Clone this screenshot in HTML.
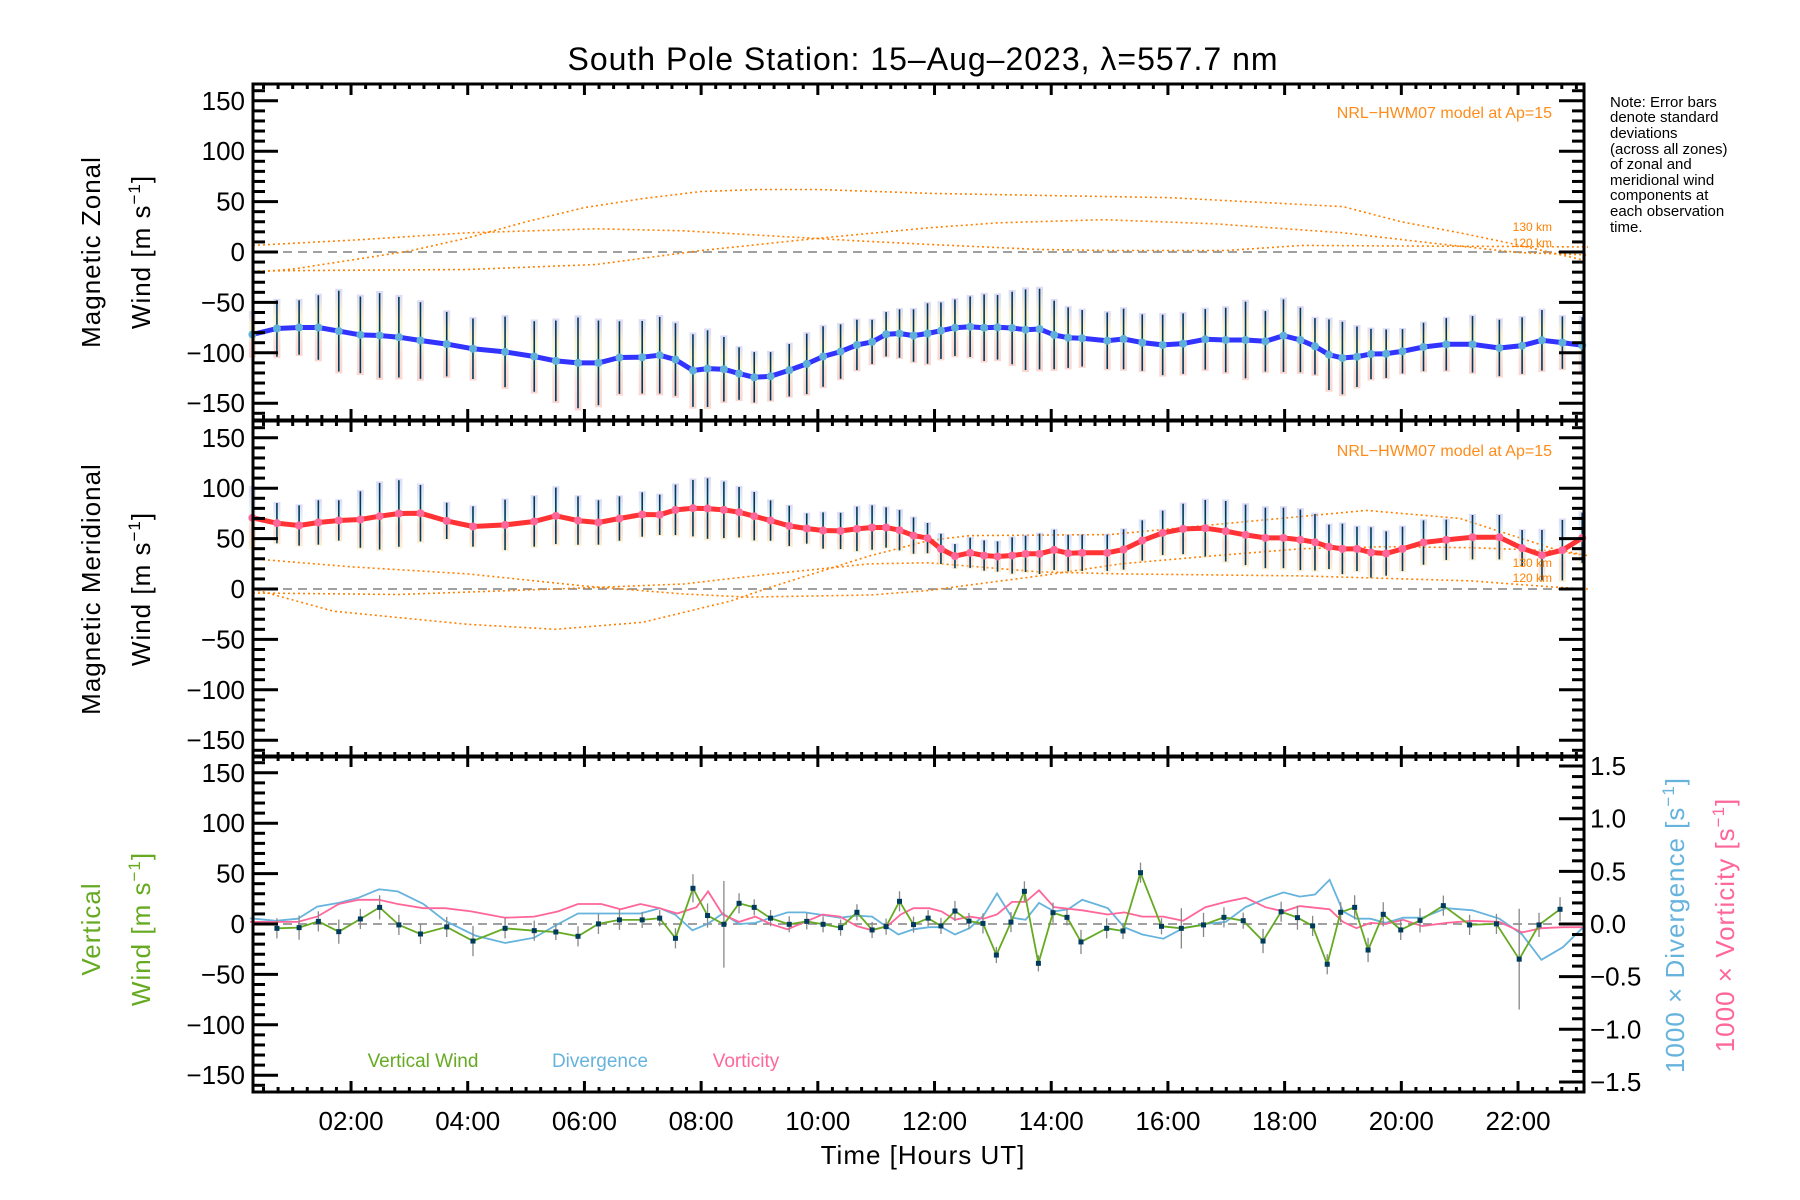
<!DOCTYPE html>
<html><head><meta charset="utf-8"><style>
html,body{margin:0;padding:0;background:#fff;}
svg{display:block;font-family:"Liberation Sans","DejaVu Sans",sans-serif;}
</style></head><body>
<svg id="chart" width="1800" height="1200" viewBox="0 0 1800 1200" xmlns="http://www.w3.org/2000/svg">
<rect width="1800" height="1200" fill="#fff"/>
<text x="923" y="70" font-size="32" text-anchor="middle" fill="#000" letter-spacing="1">South Pole Station: 15–Aug–2023, λ=557.7 nm</text>
<g id="layer"></g>
<g font-size="15" fill="#000">
<text x="1610" y="107">Note: Error bars</text><text x="1610" y="122">denote standard</text><text x="1610" y="138">deviations</text><text x="1610" y="154">(across all zones)</text><text x="1610" y="169">of zonal and</text><text x="1610" y="185">meridional wind</text><text x="1610" y="200">components at</text><text x="1610" y="216">each observation</text><text x="1610" y="232">time.</text>
</g>
<text transform="translate(100,252) rotate(-90)" font-size="26" text-anchor="middle" letter-spacing="1">Magnetic Zonal</text>
<text transform="translate(150,252) rotate(-90)" font-size="26" text-anchor="middle" letter-spacing="1">Wind [m s<tspan dy="-10" font-size="17">−1</tspan><tspan dy="10">]</tspan></text>
<text transform="translate(100,589) rotate(-90)" font-size="26" text-anchor="middle" letter-spacing="1">Magnetic Meridional</text>
<text transform="translate(150,589) rotate(-90)" font-size="26" text-anchor="middle" letter-spacing="1">Wind [m s<tspan dy="-10" font-size="17">−1</tspan><tspan dy="10">]</tspan></text>
<text transform="translate(100,929) rotate(-90)" font-size="26" text-anchor="middle" fill="#66aa22" letter-spacing="1">Vertical</text>
<text transform="translate(150,929) rotate(-90)" font-size="26" text-anchor="middle" fill="#66aa22" letter-spacing="1">Wind [m s<tspan dy="-10" font-size="17">−1</tspan><tspan dy="10">]</tspan></text>
<text transform="translate(1684,925) rotate(-90)" font-size="26" text-anchor="middle" fill="#66b3dd" letter-spacing="1">1000 × Divergence [s<tspan dy="-10" font-size="17">−1</tspan><tspan dy="10">]</tspan></text>
<text transform="translate(1734,925) rotate(-90)" font-size="26" text-anchor="middle" fill="#ff6699" letter-spacing="1">1000 × Vorticity [s<tspan dy="-10" font-size="17">−1</tspan><tspan dy="10">]</tspan></text>
<text x="923" y="1164" font-size="26" text-anchor="middle" letter-spacing="1">Time [Hours UT]</text>
<text x="423" y="1067" font-size="19" text-anchor="middle" fill="#66aa22">Vertical Wind</text>
<text x="600" y="1067" font-size="19" text-anchor="middle" fill="#66b3dd">Divergence</text>
<text x="746" y="1067" font-size="19" text-anchor="middle" fill="#ff6699">Vorticity</text>
<text x="1552" y="118" font-size="16" text-anchor="end" fill="#ff8c1a">NRL−HWM07 model at Ap=15</text>
<text x="1552" y="456" font-size="16" text-anchor="end" fill="#ff8c1a">NRL−HWM07 model at Ap=15</text>
<text x="1552" y="231" font-size="12" text-anchor="end" fill="#ff8000">130 km</text>
<text x="1552" y="247" font-size="12" text-anchor="end" fill="#ff8000">120 km</text>
<text x="1552" y="567" font-size="12" text-anchor="end" fill="#ff8000">130 km</text>
<text x="1552" y="582" font-size="12" text-anchor="end" fill="#ff8000">120 km</text>
</svg>
<script>
// ---- data ----
const obsHours=[0.31,0.73,1.11,1.44,1.79,2.16,2.49,2.82,3.19,3.64,4.09,4.64,5.14,5.51,5.89,6.24,6.60,6.99,7.29,7.56,7.86,8.11,8.39,8.65,8.91,9.19,9.51,9.81,10.09,10.39,10.67,10.93,11.17,11.40,11.64,11.88,12.11,12.35,12.61,12.85,13.08,13.33,13.56,13.80,14.05,14.29,14.53,14.96,15.24,15.56,15.91,16.26,16.64,16.99,17.33,17.67,17.98,18.27,18.52,18.76,18.99,19.24,19.48,19.74,20.02,20.38,20.77,21.22,21.68,22.07,22.41,22.76,23.10];
const zonalWind=[-81.8,-75.9,-74.9,-74.9,-78.5,-82.2,-82.8,-84.5,-87.8,-91.4,-96,-99.1,-103.7,-108,-110,-110,-104.7,-104.4,-102.4,-106.7,-117.6,-115.7,-116.3,-120.6,-124.3,-123.3,-117.3,-111,-103.7,-98.8,-92.2,-89.2,-81.6,-80.9,-82.9,-80.9,-78.1,-75.1,-74.1,-75.1,-74.7,-75.4,-77.1,-76.4,-82.3,-85,-85.6,-88,-86.3,-89.9,-92.2,-90.9,-86.6,-87.3,-87.3,-88.6,-83,-87.3,-93.6,-101.9,-105.2,-103.9,-101.2,-100.9,-98.5,-94.2,-91.6,-91.6,-95.2,-92.9,-87.6,-89.9,-92.6];
const zonalErr=[22,28,27,32,40,38,42,40,38,32,30,35,35,40,45,42,36,36,38,36,36,38,32,26,25,24,26,30,30,27,25,22,22,24,26,30,28,28,30,33,32,36,40,40,34,30,28,28,30,28,30,30,30,32,38,30,36,32,28,35,36,30,25,24,22,24,26,28,28,28,30,26,28];
const meridWind=[70.6,65.3,63,66,68,68.9,72.2,74.9,75.2,67.6,62,63.6,67,72.6,67.9,66,69.9,73.9,73.6,78.5,80.2,79.8,78.5,76.2,72.2,67.9,62.6,60,58,57.6,59.6,61,61,58.3,53,50.5,39.8,32.6,35.9,33.2,32.2,33.2,34.9,34.9,38.8,35.5,35.9,35.9,39.2,48.1,55.7,59.6,60.3,57.3,53.7,50.7,50.7,48.8,46.4,41.8,39.8,39.8,36.2,35.2,39.8,46.1,48.8,51.4,51.4,40.5,33.5,38.5,50.7];
const meridErr=[30,20,20,22,20,28,33,33,28,18,20,25,25,28,24,22,22,22,20,25,28,30,28,25,24,20,20,15,18,18,22,22,20,20,18,15,15,12,15,15,15,18,18,20,20,18,18,18,20,20,22,25,28,30,30,30,30,30,28,22,25,22,25,22,22,22,20,22,22,18,25,30,25];
const vertHours=[0.73,1.11,1.44,1.79,2.16,2.49,2.82,3.19,3.64,4.09,4.64,5.14,5.51,5.89,6.24,6.60,6.99,7.29,7.56,7.86,8.11,8.39,8.65,8.91,9.19,9.51,9.81,10.09,10.39,10.67,10.93,11.17,11.40,11.64,11.89,12.11,12.35,12.59,12.83,13.06,13.31,13.54,13.78,14.03,14.27,14.51,14.95,15.23,15.53,15.89,16.23,16.61,16.96,17.29,17.63,17.94,18.22,18.48,18.73,18.96,19.20,19.43,19.69,19.99,20.32,20.72,21.17,21.63,22.02,22.36,22.72];
const vertWind=[-4.3,-3.6,2.6,-7.6,5,16.5,-0.9,-9.9,-2.9,-16.9,-4.3,-6.6,-7.9,-12.2,0.1,4.1,4.1,5.8,-14.2,35.4,8.4,-0.3,20.5,16.5,5.8,-0.3,2.6,-0.3,-3.6,11.6,-5.9,-2.6,22.5,-0.6,5.8,-1.9,12.9,2.9,0.6,-30.8,1.9,32.4,-39,11.2,6.6,-17.8,-4.3,-6.9,50.9,-2.3,-4.3,-0.9,6.6,3.3,-16.9,12.2,6.3,-1.9,-39.9,11.6,16.5,-25.8,9.6,-5.9,3.6,18.2,-0.9,0.1,-34.9,-0.9,14.6];
const vertErr=[10,12,10,12,10,12,10,10,10,15,10,10,8,10,10,10,8,8,10,14,12,43,10,8,8,8,8,8,8,8,8,8,10,8,8,8,10,8,10,8,10,10,8,10,8,12,10,8,10,8,20,12,10,8,12,10,12,10,10,10,12,12,12,10,12,10,10,10,50,12,12];
const divHours=[0.27,0.71,1.09,1.42,1.79,2.13,2.48,2.80,3.24,3.61,4.13,4.64,5.14,5.55,5.89,6.96,7.29,7.55,7.85,8.11,8.37,8.65,8.93,9.19,9.48,9.78,10.15,10.38,10.67,10.93,11.19,11.38,11.64,11.91,12.12,12.35,12.60,12.84,13.07,13.33,13.56,13.79,14.05,14.29,14.53,14.97,15.25,15.56,15.92,16.26,16.64,16.99,17.33,17.67,17.98,18.26,18.52,18.77,19.0,19.23,19.47,19.73,20.03,20.36,20.77,21.22,21.68,22.07,22.40,22.77,23.10];
const divValues=[0.054,0.03,0.05,0.165,0.20,0.25,0.33,0.31,0.19,0.03,-0.11,-0.18,-0.13,0,0.10,0.10,0.15,0.09,-0.06,0,0.10,0,0.01,0.06,0.11,0.11,0.08,0.06,0.08,0.07,-0.03,-0.10,-0.05,-0.03,-0.03,-0.10,-0.04,0.08,0.29,0.06,0.04,0.20,0.12,0.14,0.23,0.15,-0.03,-0.10,-0.14,-0.04,0,0.02,0.16,0.24,0.30,0.26,0.28,0.42,0.12,0.05,0.05,0.01,0.06,0.06,0.15,0.13,0.05,-0.10,-0.34,-0.22,-0.04];
const vortHours=[0.27,0.71,1.09,1.42,1.79,2.13,2.48,2.80,3.24,3.61,4.06,4.64,5.14,5.55,5.89,6.29,6.62,6.96,7.29,7.59,7.92,8.12,8.37,8.65,8.93,9.19,9.48,9.78,10.08,10.38,10.67,10.93,11.19,11.42,11.64,11.91,12.12,12.35,12.60,12.84,13.07,13.33,13.56,13.79,14.05,14.53,14.97,15.25,15.56,15.92,16.26,16.64,16.99,17.33,17.67,17.98,18.26,18.77,19.0,19.23,19.47,19.73,20.03,20.36,20.77,21.22,21.68,22.07,22.40,22.77,23.10];
const vortValues=[0.02,0.02,0.02,0.07,0.19,0.23,0.23,0.19,0.15,0.15,0.12,0.06,0.07,0.12,0.19,0.19,0.14,0.19,0.15,0.10,0.16,0.31,0.09,0.02,0.07,0,-0.05,0.02,0.09,0.07,-0.02,-0.06,-0.02,0.09,0.15,0.15,0.12,0.04,0.07,0.05,0.09,0.21,0.21,0.32,0.16,0.13,0.09,0.11,0.07,0.07,0.03,0.16,0.21,0.25,0.16,0.12,0.17,0.14,0.02,-0.04,0.01,0,0.04,-0.02,0.01,0.03,0.02,-0.08,-0.04,-0.03,-0.03];
const zModelAHours=[0.32,1,2,3,4,5,6,7,8,9,10,11,12,13,14,15,16,17,18,19,20,21,22,23.2];
const zModelA=[-20,-17,-8,1,14,30,44,53,60,62,62,60,58,57,56,55,54,51,48,45,30,19,7,-9];
const zModelBHours=[0.32,2.1,4,6.2,7.7,9.2,10.7,11.9,13.8,15,17,18.3,20,22,23.2];
const zModelB=[6.5,12,19,23,21,16,11,7.5,2.5,1.5,1.5,6.5,6,5.5,5];
const zModelCHours=[0.32,1,4,6.2,8,9.9,11.9,13.1,14.9,16.8,19,20.5,22,23.2];
const zModelC=[-19,-18.5,-17.4,-12.4,1.5,13,24,29,32,28,19,9,-0.5,-3];
const mModelPHours=[0.32,2,4,6,7.7,8.8,10.9,11.9,12.6,13.8,15.2,16.8,18.3,19.7,21.2,22.6,23.2];
const mModelP=[30,22,15,3,-5,-8,-6,-1.5,4,13,25,33,40,42,41,38,33];
const mModelQHours=[0.32,2.8,5.5,7.7,9.2,10.9,11.9,13.8,15.2,18.3,21.2,22.6,23.2];
const mModelQ=[-4,-5.5,0,5,15,25,26,17,15,13,8,2,0];
const mModelRHours=[0.32,1.7,4,5.5,7,8.5,9.2,10.9,11.9,12.6,15,17,19.4,21,22.6,23.2];
const mModelR=[0,-22,-35,-40,-33,-12,2,33,48,53,54,65,78,70,40,33];
const leftTicks=[-150,-100,-50,0,50,100,150];
const rightTicks=[-1.5,-1.0,-0.5,0.0,0.5,1.0,1.5];
const xTickHours=[2,4,6,8,10,12,14,16,18,20,22];
const xTickLabels=["02:00","04:00","06:00","08:00","10:00","12:00","14:00","16:00","18:00","20:00","22:00"];

// ---- scales ----
const X0=253,X1=1584,H0=0.32,PXH=58.35;
const panelTops=[84,421,756],PH=336;
function X(h){return X0+(h-H0)*PXH;}
function Y(p,v){return panelTops[p]+168-v*1.008;}
function YR(u){return 924-u*105.3;}
const NS="http://www.w3.org/2000/svg";
const layer=document.getElementById('layer');
function el(tag,attrs,parent){const e=document.createElementNS(NS,tag);for(const k in attrs)e.setAttribute(k,attrs[k]);(parent||layer).appendChild(e);return e;}
function grp(name){const g=el('g',{});


return g;}
function poly(g,hs,vs,fy,attrs){const pts=hs.map((h,i)=>X(h).toFixed(1)+','+fy(vs[i]).toFixed(1)).join(' ');const a=Object.assign({points:pts,fill:'none'},attrs);return el('polyline',a,g);}

const defs=el('defs',{});
const g1=el('linearGradient',{id:'gz',x1:0,y1:0,x2:0,y2:1},defs);
[['0','#b8b8ee'],['0.3','#fbe3a8'],['0.5','#d8f3c0'],['0.7','#f7c0b0'],['1','#f6b0a4']].forEach(s=>el('stop',{offset:s[0],'stop-color':s[1]},g1));
const g2=el('linearGradient',{id:'gm',x1:0,y1:0,x2:0,y2:1},defs);
[['0','#b8b8ee'],['0.35','#cfe8f0'],['0.5','#e0f5c8'],['0.7','#f7c0b0'],['1','#fbe0a8']].forEach(s=>el('stop',{offset:s[0],'stop-color':s[1]},g2));

for(let p=0;p<3;p++){const z=grp('zero-line-'+(p+1));el('line',{x1:X0,x2:X1,y1:Y(p,0),y2:Y(p,0),stroke:'#808080','stroke-width':1.5,'stroke-dasharray':'9,6'},z);}

function model(p,hs,vs,name){const g=grp(name);poly(g,hs,vs,v=>Y(p,v),{stroke:'#ff8000','stroke-width':1.6,'stroke-dasharray':'2,3'});}
model(0,zModelAHours,zModelA,'zonal-model-curve-a');
model(0,zModelBHours,zModelB,'zonal-model-curve-b');
model(0,zModelCHours,zModelC,'zonal-model-curve-c');
model(1,mModelPHours,mModelP,'meridional-model-curve-p');
model(1,mModelQHours,mModelQ,'meridional-model-curve-q');
model(1,mModelRHours,mModelR,'meridional-model-curve-r');

function windPanel(p,vals,errs,grad,lineColor,dotColor,name){
  const g=grp(name);
  obsHours.forEach((h,i)=>{const x=X(h);const top=Y(p,vals[i]+errs[i]*1.05),bot=Y(p,vals[i]-errs[i]*1.05);
    const r=el('rect',{x:x-3.5,y:top,width:7,height:bot-top,fill:'url(#'+grad+')',opacity:0.5},g);
    
    });
  obsHours.forEach((h,i)=>{const x=X(h);
    const b=el('line',{x1:x,x2:x,y1:Y(p,vals[i]+errs[i]),y2:Y(p,vals[i]-errs[i]),stroke:'#00395a','stroke-width':1.6},g);
    
    });
  poly(g,obsHours,vals,v=>Y(p,v),{stroke:lineColor,'stroke-width':5,'stroke-linejoin':'round'});
  obsHours.forEach((h,i)=>{const c=el('circle',{cx:X(h),cy:Y(p,vals[i]),r:4,fill:dotColor},g);
    
    });
}
windPanel(0,zonalWind,zonalErr,'gz','#3333ff','#5fb0d8','zonal-wind-series');
windPanel(1,meridWind,meridErr,'gm','#ff3333','#ff6699','meridional-wind-series');

const gd=grp('divergence-line');poly(gd,divHours,divValues,YR,{stroke:'#66b3dd','stroke-width':1.8});
const gv=grp('vorticity-line');poly(gv,vortHours,vortValues,YR,{stroke:'#ff6699','stroke-width':1.8});
const gw=grp('vertical-wind-series');
vertHours.forEach((h,i)=>{const x=X(h);
  const b=el('line',{x1:x,x2:x,y1:Y(2,vertWind[i]+vertErr[i]),y2:Y(2,vertWind[i]-vertErr[i]),stroke:'#888','stroke-width':1.3},gw);
  
  });
poly(gw,vertHours,vertWind,v=>Y(2,v),{stroke:'#66aa22','stroke-width':1.8});
vertHours.forEach((h,i)=>{const r=el('rect',{x:X(h)-2.5,y:Y(2,vertWind[i])-2.5,width:5,height:5,fill:'#003a5c'},gw);
  
  });

for(let p=0;p<3;p++){
  const T=panelTops[p],B=T+PH;
  const ax=grp('panel-'+(p+1)+'-axes');
  el('rect',{x:X0,y:T,width:X1-X0,height:PH,fill:'none',stroke:'#000','stroke-width':3},ax);
  for(let v=-160;v<=160;v+=10){const y=Y(p,v);const L=(v%50===0)?25:12;
    el('line',{x1:X0,x2:X0+L,y1:y,y2:y,stroke:'#000','stroke-width':3},ax);
    if(p<2)el('line',{x1:X1,x2:X1-L,y1:y,y2:y,stroke:'#000','stroke-width':3},ax);}
  leftTicks.forEach(v=>{const t=el('text',{x:X0-8,y:Y(p,v)+9,'font-size':26,'text-anchor':'end'},ax);t.textContent=(v<0?'−':'')+Math.abs(v);
    
    });
  for(let h=0.5;h<=23.2;h+=0.25){const x=X(h);if(x<X0+2||x>X1-2)continue;const maj=Math.abs(h/2-Math.round(h/2))<1e-6;const L=maj?11:5;
    el('line',{x1:x,x2:x,y1:T,y2:T+L,stroke:'#000','stroke-width':3},ax);
    el('line',{x1:x,x2:x,y1:B,y2:B-L,stroke:'#000','stroke-width':3},ax);}
}
const ra=grp('right-axis-panel-3');
for(let k=-15;k<=15;k++){const u=k/10;const y=YR(u);const L=(k%5===0)?25:12;el('line',{x1:X1,x2:X1-L,y1:y,y2:y,stroke:'#000','stroke-width':3},ra);}
rightTicks.forEach(u=>{const t=el('text',{x:X1+6,y:YR(u)+9,'font-size':26},ra);t.textContent=(u<0?'−':'')+Math.abs(u).toFixed(1);
  
  });
const xa=grp('x-axis-labels');
xTickHours.forEach((h,i)=>{const t=el('text',{x:X(h),y:1130,'font-size':26,'text-anchor':'middle'},xa);t.textContent=xTickLabels[i];
  
  });
</script>
</body></html>
